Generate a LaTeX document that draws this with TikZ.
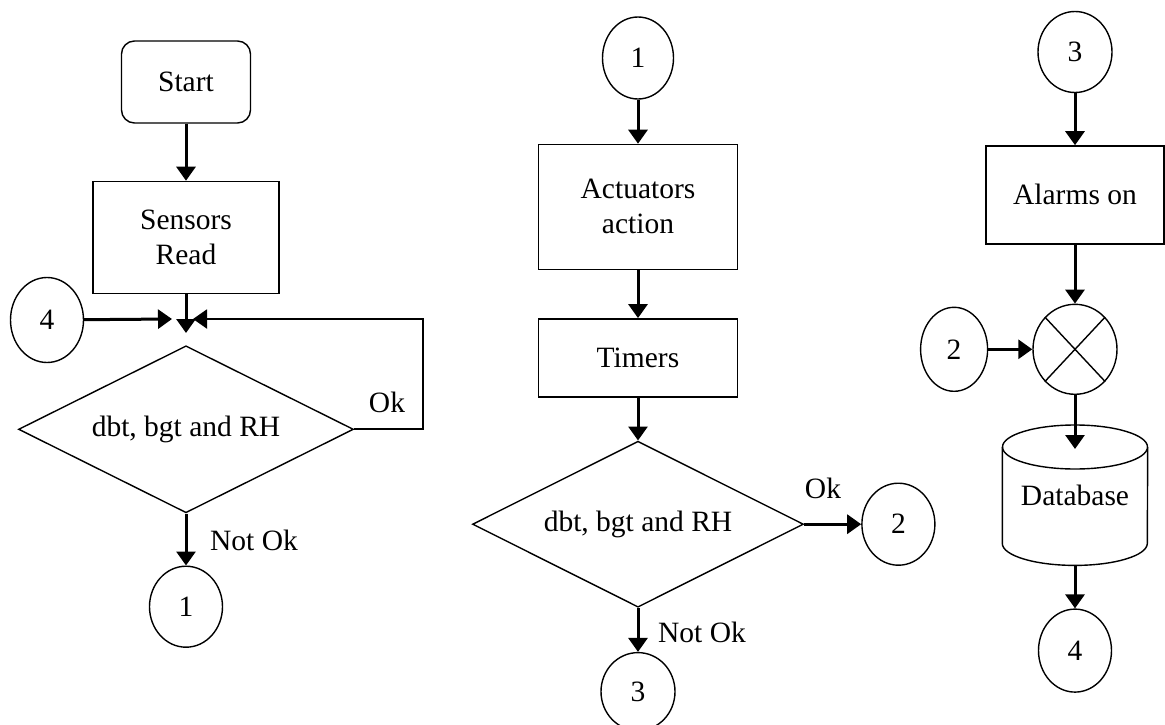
\documentclass[tikz,border=0pt]{standalone}
\usepackage{fontspec}
\setmainfont{Liberation Serif}
\usepackage{tikz}
\usetikzlibrary{arrows.meta,positioning,shapes.geometric}

\begin{document}
\begin{tikzpicture}[
  x=1pt, y=1pt,
  font=\fontsize{29.5}{35}\selectfont,
  procbox/.style={draw, line width=1.4pt, align=center, inner sep=2pt},
  conn/.style={draw, ellipse, line width=1.4pt, inner sep=0pt, minimum width=73pt, minimum height=83pt},
  decide/.style={draw, diamond, aspect=2, line width=1.4pt, inner sep=0pt},
  flow/.style={-{Triangle[width=19pt,length=14pt]}, line width=3pt},
  lbl/.style={inner sep=0pt}
]
\useasboundingbox (0,0) rectangle (1165,-725);

% left column: start, read, check
\node[procbox, rounded corners=13pt, minimum width=129pt, minimum height=82pt] (start) at (186,-82) {Start};
\node[procbox, below=57pt of start, minimum width=186pt, minimum height=112pt] (sensors) {Sensors\\Read};
\node[decide, below=51pt of sensors, minimum width=335pt, minimum height=167pt] (dia1) {dbt, bgt and RH};
\node[conn, below=52pt of dia1, minimum height=81pt] (conn1b) {1};
\node[conn, minimum height=85pt] (conn4a) at (47,-320) {4};
\coordinate (mergeL) at (172,-319);
\coordinate (mergeR) at (193,-319);
\coordinate (mergeD) at (186,-333);
\node[lbl] (ok1) at (387,-402) {Ok};
\node[lbl] (notok1) at (254,-540) {Not Ok};

\draw[flow] (start) -- (sensors);
\draw[flow] (sensors) -- (mergeD);
\draw[flow] (conn4a) -- (mergeL);
\draw[flow, line width=2pt] (dia1.east) -- ++(69,0) |- (mergeR);
\draw[flow] (dia1) -- (conn1b);

% middle column: actuators and timers
\node[conn, minimum width=71pt, minimum height=82pt] (conn1t) at (638,-58) {1};
\node[procbox, below=44pt of conn1t, minimum width=199pt, minimum height=125pt] (actuators) {Actuators\\action};
\node[procbox, below=48pt of actuators, minimum width=199pt, minimum height=78pt] (timers) {Timers};
\node[decide, below=43pt of timers, minimum width=331pt, minimum height=166pt] (dia2) {dbt, bgt and RH};
\node[conn, below=44pt of dia2, minimum width=74pt, minimum height=78pt] (conn3b) {3};
\node[conn, right=57pt of dia2, minimum height=82pt] (conn2b) {2};
\node[lbl] (ok2) at (823,-488) {Ok};
\node[lbl] (notok2) at (702,-632) {Not Ok};

\draw[flow] (conn1t) -- (actuators);
\draw[flow] (actuators) -- (timers);
\draw[flow] (timers) -- (dia2);
\draw[flow] (dia2) -- (conn3b);
\draw[flow] (dia2.east) -- (conn2b);

% right column: alarms and storage
\node[conn, minimum width=74pt, minimum height=81pt] (conn3t) at (1075,-52) {3};
\node[procbox, below=52pt of conn3t, minimum width=178pt, minimum height=98pt] (alarms) {Alarms on};
\node[draw, ellipse, line width=1.4pt, below=59pt of alarms, minimum width=84pt, minimum height=90pt] (xsum) {};
\draw[line width=1.4pt] (xsum.north west) -- (xsum.south east);
\draw[line width=1.4pt] (xsum.north east) -- (xsum.south west);
\node[conn, left=44pt of xsum, minimum width=67pt, minimum height=84pt] (conn2r) {2};
\node[below=30pt of xsum, minimum width=145pt, minimum height=140pt, inner sep=0pt] (db) {Database};
\draw[line width=1.4pt] ([yshift=-22pt]db.north west) -- ([yshift=22pt]db.south west)
  arc[start angle=180, end angle=360, x radius=72.5pt, y radius=22pt] -- ([yshift=-22pt]db.north east);
\draw[line width=1.4pt] ([yshift=-22pt]db.north) ellipse [x radius=72.5pt, y radius=22pt];
\node[conn, below=43pt of db] (conn4b) {4};

\draw[flow] (conn3t) -- (alarms);
\draw[flow] (alarms.south -| xsum.north) -- (xsum.north);
\draw[flow] (conn2r) -- (xsum);
\draw[flow] (xsum) -- ([yshift=-24pt]db.north);
\draw[flow] (db) -- (conn4b);
\end{tikzpicture}
\end{document}
